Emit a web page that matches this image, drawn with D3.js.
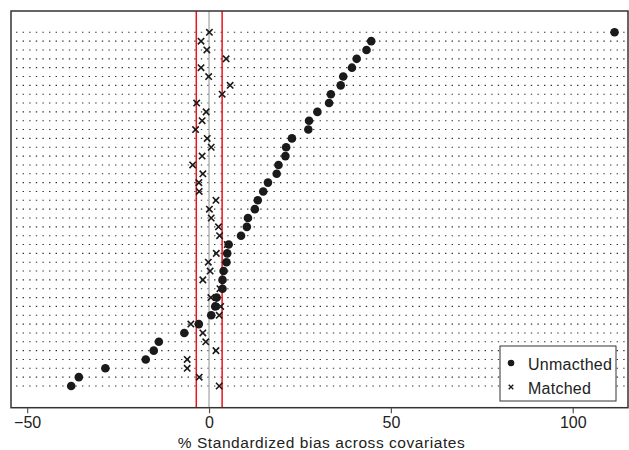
<!DOCTYPE html>
<html>
<head>
<meta charset="utf-8">
<script src="https://cdn.jsdelivr.net/npm/d3@7"></script>
<style>
  body { margin: 0; background: #fff; }
  text { font-family: "Liberation Sans", Arial, sans-serif; fill: #222; }
</style>
</head>
<body>
<div id="chart"></div>
<script>
// covariates, top to bottom (sorted by unmatched bias)
var covariates = d3.range(1, 42).map(function (i) { return "x" + i; });

// % standardized bias before matching
var unmatched = [111.5, 44.6, 43.3, 40.6, 39.3, 36.9, 36.2, 33.5, 33.0, 29.8,
  27.5, 27.3, 22.8, 21.2, 21.0, 19.1, 18.6, 16.2, 14.9, 13.4,
  12.6, 10.7, 10.4, 8.8, 5.4, 5.0, 4.8, 4.0, 3.7, 3.7,
  2.1, 1.7, 0.6, -2.8, -6.8, -13.8, -15.2, -17.4, -28.5, -35.8, -37.9];

// % standardized bias after matching
var matched = [0.1, -2.2, -0.6, 4.7, -2.2, -0.1, 5.8, 3.6, -3.4, -0.8,
  -1.9, -3.7, -0.5, 0.6, -1.9, -4.5, -1.7, -2.8, -2.7, 1.9,
  0.1, 0.6, 2.6, 2.9, 5.0, 2.0, -0.2, 0.3, -1.7, 3.0,
  0.5, 3.2, 2.8, -5.0, -1.7, -0.9, 1.9, -6.0, -6.0, -2.7, 2.8];

var refLines = [-3.5, 3.6];
var xTicks = [-50, 0, 50, 100];
var legendItems = ["Unmacthed", "Matched"];

var width = 629, height = 450;

var svg = d3.select("#chart").append("svg")
  .attr("width", width)
  .attr("height", height);

var x = d3.scaleLinear().domain([-54.45, 115.2]).range([11, 628]);
var y = d3.scalePoint().domain(covariates).range([32.3, 386]);

var plotTop = 11, plotBottom = 407.7;

// dotted row lines
svg.append("g").selectAll("line")
  .data(covariates)
  .enter().append("line")
  .attr("x1", 16)
  .attr("x2", 627)
  .attr("y1", function (d) { return y(d); })
  .attr("y2", function (d) { return y(d); })
  .style("stroke", "#333")
  .style("stroke-width", 1.1)
  .style("stroke-dasharray", "1.4,5.2");

// zero line
svg.append("line")
  .attr("x1", x(0)).attr("x2", x(0))
  .attr("y1", plotTop).attr("y2", plotBottom)
  .style("stroke", "#aaa")
  .style("stroke-width", 1.3);

// red reference lines
svg.append("g").selectAll("line")
  .data(refLines)
  .enter().append("line")
  .attr("x1", function (d) { return x(d); })
  .attr("x2", function (d) { return x(d); })
  .attr("y1", plotTop).attr("y2", plotBottom)
  .style("stroke", "#e8141c")
  .style("stroke-width", 1.5);

// matched: crosses
var cs = 3.2;
svg.append("g").selectAll("path")
  .data(matched)
  .enter().append("path")
  .attr("d", function (d, i) {
    var cx = x(d), cy = y(covariates[i]);
    return "M" + (cx - cs) + "," + (cy - cs) + "L" + (cx + cs) + "," + (cy + cs) +
      "M" + (cx - cs) + "," + (cy + cs) + "L" + (cx + cs) + "," + (cy - cs);
  })
  .style("stroke", "#1a1a1a")
  .style("stroke-width", 1.6);

// unmatched: dots
svg.append("g").selectAll("circle")
  .data(unmatched)
  .enter().append("circle")
  .attr("cx", function (d) { return x(d); })
  .attr("cy", function (d, i) { return y(covariates[i]); })
  .attr("r", 4.3)
  .style("fill", "#1a1a1a");

// frame
svg.append("rect")
  .attr("x", 11).attr("y", plotTop)
  .attr("width", 617).attr("height", plotBottom - plotTop)
  .style("fill", "none")
  .style("stroke", "#333")
  .style("stroke-width", 1.5);

// x axis
var xAxis = d3.axisBottom(x)
  .tickValues(xTicks)
  .tickSize(5.5)
  .tickPadding(3)
  .tickFormat(function (d) { return d < 0 ? "\u2212" + Math.abs(d) : d; });

var gx = svg.append("g")
  .attr("transform", "translate(0," + plotBottom + ")")
  .call(xAxis);
gx.select(".domain").remove();
gx.selectAll(".tick line").style("stroke", "#555").style("stroke-width", 1.2);
gx.selectAll(".tick text")
  .style("font-size", "16px")
  .style("fill", "#222");

svg.append("text")
  .attr("x", 321.5)
  .attr("y", 447.5)
  .attr("text-anchor", "middle")
  .style("font-size", "15.5px")
  .style("letter-spacing", "0.55px")
  .text("% Standardized bias across covariates");

// legend
var lg = svg.append("g");
lg.append("rect")
  .attr("x", 500).attr("y", 346)
  .attr("width", 116).attr("height", 55)
  .style("fill", "#fff")
  .style("stroke", "#333")
  .style("stroke-width", 1);
lg.append("circle")
  .attr("cx", 511).attr("cy", 363)
  .attr("r", 3.3)
  .style("fill", "#1a1a1a");
var ls = 2.3;
lg.append("path")
  .attr("d", "M" + (511 - ls) + "," + (387 - ls) + "L" + (511 + ls) + "," + (387 + ls) +
    "M" + (511 - ls) + "," + (387 + ls) + "L" + (511 + ls) + "," + (387 - ls))
  .style("stroke", "#1a1a1a")
  .style("stroke-width", 1.3);
lg.selectAll("text.item")
  .data(legendItems)
  .enter().append("text")
  .attr("class", "item")
  .attr("x", 528)
  .attr("y", function (d, i) { return 369.5 + i * 24; })
  .style("font-size", "16px")
  .style("letter-spacing", "0.25px")
  .text(function (d) { return d; });
</script>
</body>
</html>
